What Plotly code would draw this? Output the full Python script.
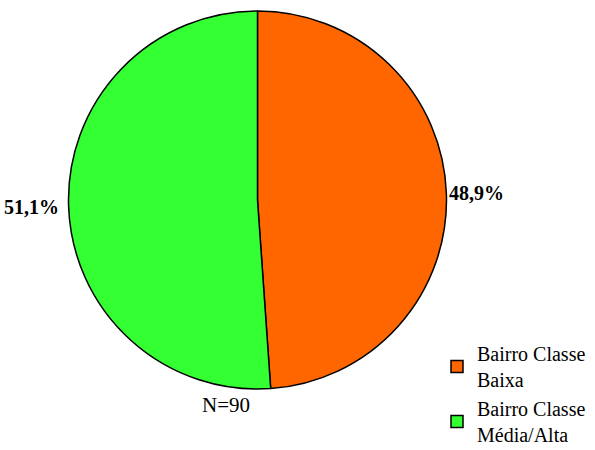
import math
import plotly.graph_objects as go

# Survey respondents by neighbourhood class
categories = ["Bairro Classe<br>Baixa", "Bairro Classe<br>Média/Alta"]
counts = [44, 46]
colors = ["#FF6600", "#33FF33"]
total = sum(counts)

W, H = 595, 450
cx, cy, r = 257.5, 200, 189
SERIF = "Liberation Serif, Times New Roman, serif"

fig = go.Figure(
    go.Pie(
        labels=categories,
        values=counts,
        sort=False,
        direction="clockwise",
        rotation=0,
        marker=dict(colors=colors, line=dict(color="black", width=1.5)),
        textinfo="none",
        hoverinfo="label+percent",
        domain=dict(x=[(cx - r) / W, (cx + r) / W], y=[1 - (cy + r) / H, 1 - (cy - r) / H]),
        showlegend=True,
    )
)

# Percentage labels placed just outside each slice, at its mid angle
cum = 0
for v in counts:
    mid = (cum + v / 2) / total * 2 * math.pi  # clockwise from 12 o'clock
    cum += v
    s, c = math.sin(mid), math.cos(mid)
    gap = 1 if s > 0 else 8
    px = cx + (r + gap) * s
    py = cy - (r + gap) * c
    pct = f"{100 * v / total:.1f}%".replace(".", ",")
    fig.add_annotation(
        text=f"<b>{pct}</b>",
        x=px / W, y=1 - py / H, xref="paper", yref="paper",
        xanchor="left" if s > 0 else "right", yanchor="middle",
        showarrow=False,
        font=dict(family=SERIF, size=20, color="black"),
    )

fig.add_annotation(
    text=f"N={total}",
    x=226 / W, y=1 - 419 / H, xref="paper", yref="paper",
    showarrow=False,
    font=dict(family=SERIF, size=21, color="black"),
)

fig.update_layout(
    width=W, height=H,
    margin=dict(l=0, r=0, t=0, b=0, autoexpand=False),
    paper_bgcolor="white",
    plot_bgcolor="white",
    legend=dict(
        x=437 / W, y=-4 / H, xanchor="left", yanchor="bottom",
        font=dict(family=SERIF, size=20, color="black"),
        tracegroupgap=0,
        valign="middle",
        bgcolor="rgba(0,0,0,0)",
    ),
)

fig.write_html("out.html")
